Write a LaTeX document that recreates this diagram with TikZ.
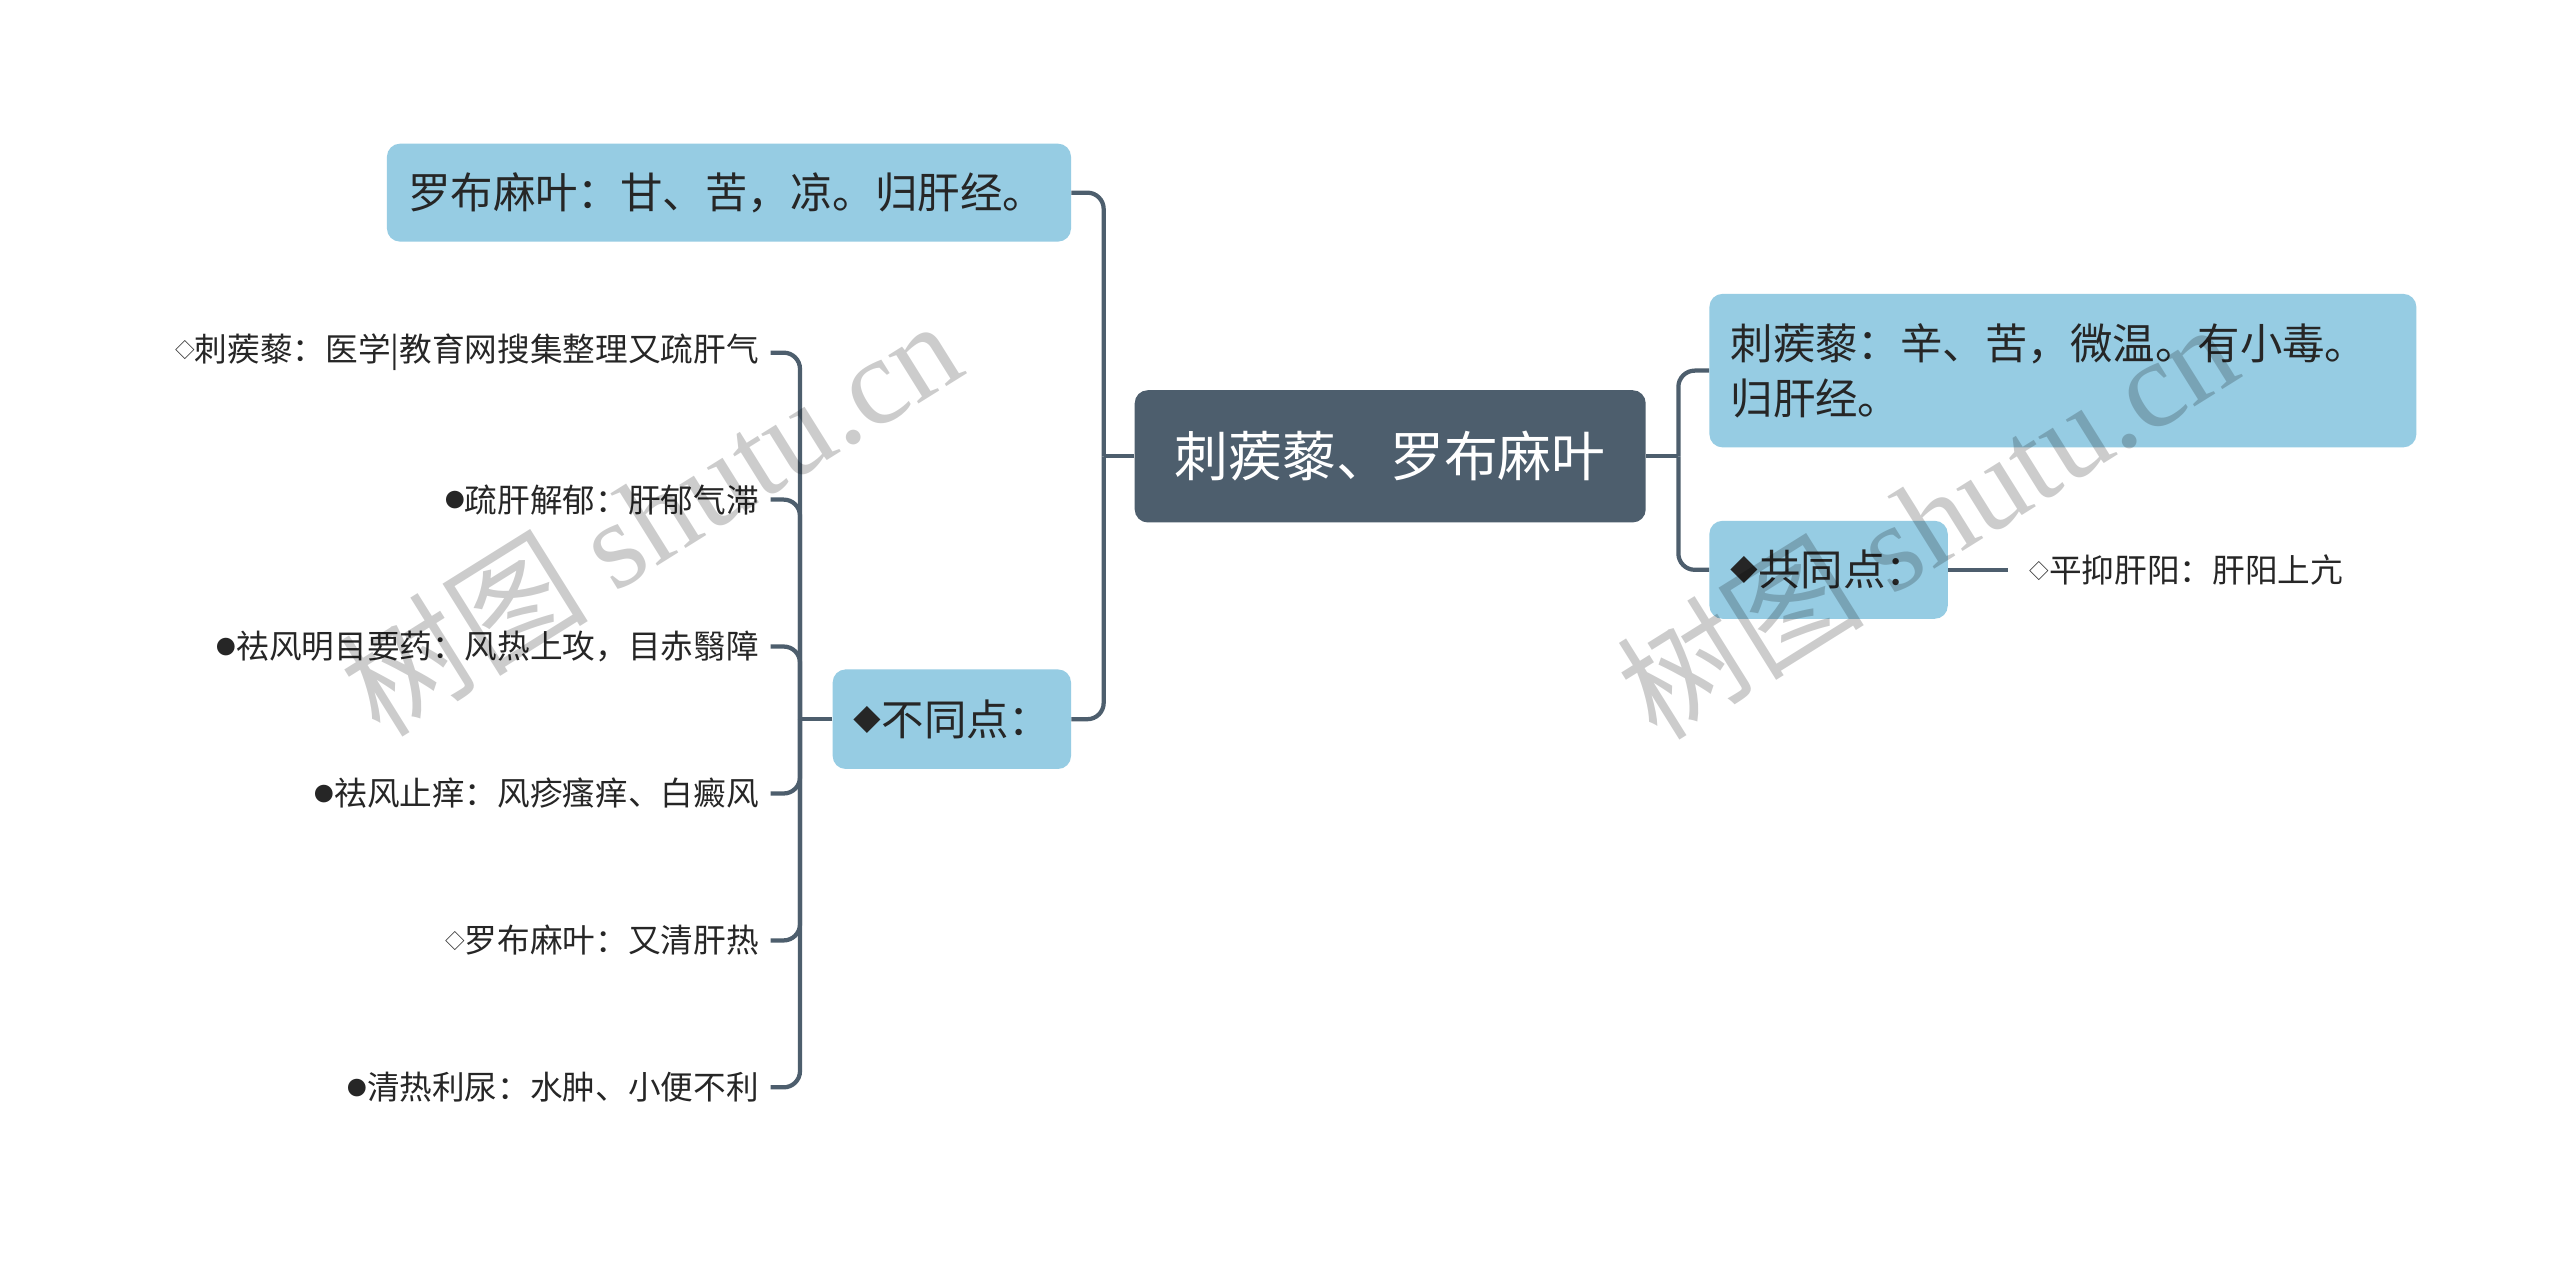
\documentclass[tikz,border=0pt]{standalone}
\usepackage{fontspec}
\setmainfont{Noto Sans CJK SC}
\newfontfamily\wmlatin{Liberation Serif}
\definecolor{rootfill}{RGB}{77,94,109}
\definecolor{subfill}{RGB}{150,204,227}
\definecolor{conncol}{RGB}{77,94,109}
\definecolor{txt}{RGB}{38,38,38}
\newcommand\mydot{{\fontsize{12}{12}\selectfont\raisebox{2.5pt}{●}}}
\newcommand\myhollow{{\fontsize{12}{12}\selectfont\raisebox{2.5pt}{◇}}}
\newcommand\mydiam{{\fontsize{17}{17}\selectfont\raisebox{3pt}{◆}}}
\begin{document}
\begin{tikzpicture}[x=1pt,y=-1pt,
  rootbox/.style={draw=none,fill=rootfill,rounded corners=8pt,text=white,font=\fontsize{33}{40}\selectfont,inner sep=0pt},
  subbox/.style={draw=none,fill=subfill,rounded corners=8pt,text=txt,font=\fontsize{26}{34}\selectfont,inner xsep=13pt,inner ysep=0pt,align=left},
  leaftext/.style={text=txt,font=\fontsize{20}{24}\selectfont,inner xsep=7pt,inner ysep=2pt},
  conn/.style={draw=conncol,line width=2.6pt,rounded corners=10pt},
  wm/.style={text=black,opacity=0.2,font=\fontsize{76}{76}\selectfont,rotate=32}
]
\useasboundingbox[fill=white] (0,0) rectangle (1568,777);

% root
\node[rootbox,minimum width=313pt,minimum height=81pt] (root) at (851.5,279.5) {刺蒺藜、罗布麻叶};

% left upper
\node[subbox,text width=393pt,minimum height=60pt] (t1) at (446.5,118) {罗布麻叶：甘、苦，凉。归肝经。};
% different
\node[subbox,text width=120pt,minimum height=61pt] (diff) at (583,440.5) {\mydiam 不同点：};

% right
\node[subbox,text width=407pt,minimum height=94pt] (r1) at (1263.5,227) {刺蒺藜：辛、苦，微温。有小毒。\\归肝经。};
\node[subbox,text width=120pt,minimum height=60pt] (same) at (1120,349) {\mydiam 共同点：};
\node[leaftext,anchor=west,inner xsep=13pt] (sl) at (1230,349) {\myhollow 平抑肝阳：肝阳上亢};

% left leaves
\node[leaftext,anchor=east] (l1) at (472,216) {\myhollow 刺蒺藜：医学|教育网搜集整理又疏肝气};
\node[leaftext,anchor=east] (l2) at (472,306) {\mydot 疏肝解郁：肝郁气滞};
\node[leaftext,anchor=east] (l3) at (472,396) {\mydot 祛风明目要药：风热上攻，目赤翳障};
\node[leaftext,anchor=east] (l4) at (472,486) {\mydot 祛风止痒：风疹瘙痒、白癜风};
\node[leaftext,anchor=east] (l5) at (472,576) {\myhollow 罗布麻叶：又清肝热};
\node[leaftext,anchor=east] (l6) at (472,666) {\mydot 清热利尿：水肿、小便不利};

% junctions
\coordinate (jl) at (676,279.5);
\coordinate (jr) at (1028,279.5);
\coordinate (jd) at (490,440.5);

\draw[conn] (root.west) -- (jl);
\draw[conn] (t1.east) -| (jl);
\draw[conn] (diff.east) -| (jl);

\draw[conn] (root.east) -- (jr);
\draw[conn] (r1.west) -| (jr);
\draw[conn] (same.west) -| (jr);
\draw[conn] (same.east) -- (sl.west);

\draw[conn] (diff.west) -- (jd);
\foreach \n in {l1,l2,l3,l4,l5,l6}{
  \draw[conn] (\n.east) -| (jd);
}

% watermarks
\node[wm] (wm1) at (398,316) {树图 {\wmlatin shutu.cn}};
\node[wm] (wm2) at (1180,318) {树图 {\wmlatin shutu.cn}};
\end{tikzpicture}
\end{document}
